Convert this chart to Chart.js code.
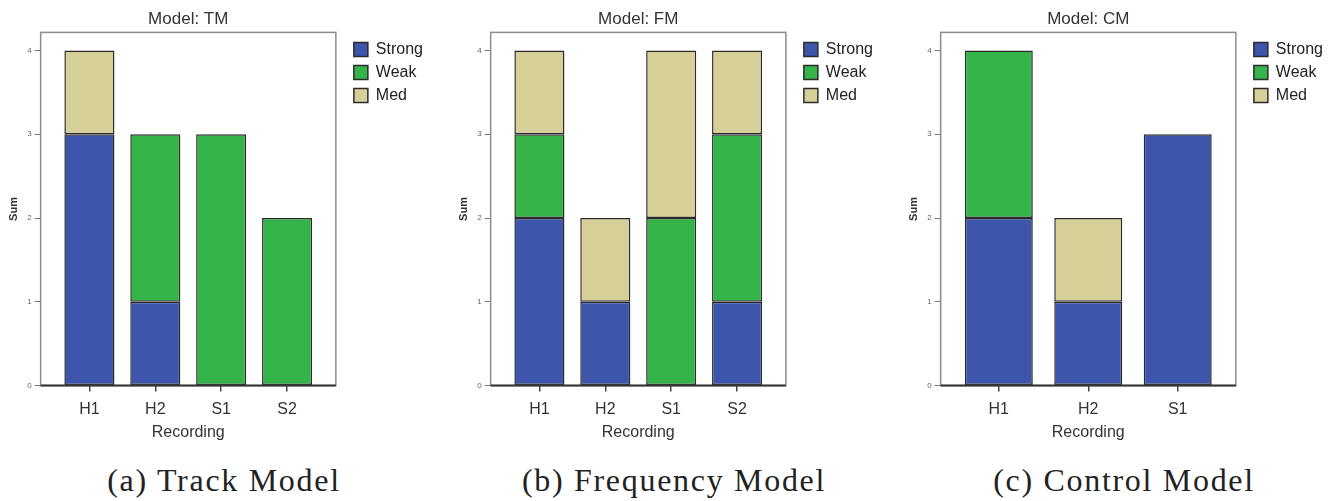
<!DOCTYPE html>
<html lang="en">
<head>
  <meta charset="UTF-8" />
  <title>Model comparison - stacked bars</title>
  <script src="https://cdn.jsdelivr.net/npm/chart.js"></script>
  <style>
    body { margin: 0; background: #fff; width: 1337px; height: 501px; overflow: hidden; position: relative; }
    .panel { position: absolute; top: 0; width: 450px; }
    .box { position: relative; width: 450px; height: 455px; }
    .caption { margin-top: 7px; width: 448px; text-align: center; font-family: "Liberation Serif", serif; font-size: 32px; letter-spacing: 1.7px; color: #222; line-height: 36px; }
  </style>
</head>
<body>
  <div class="panel" style="left:0px">
    <div class="box"><canvas id="chartTM"></canvas></div>
    <div class="caption">(a) Track Model</div>
  </div>
  <div class="panel" style="left:450px">
    <div class="box"><canvas id="chartFM"></canvas></div>
    <div class="caption">(b) Frequency Model</div>
  </div>
  <div class="panel" style="left:900px">
    <div class="box"><canvas id="chartCM"></canvas></div>
    <div class="caption">(c) Control Model</div>
  </div>

  <script>
    const levels = ['Strong', 'Weak', 'Med'];
    const colors = ['#3d55aa', '#35b44a', '#d6cf98'];

    const recTM = ['H1', 'H2', 'S1', 'S2'];
    const tmStrong = [3, 1, 0, 0];
    const tmWeak   = [0, 2, 3, 2];
    const tmMed    = [1, 0, 0, 0];

    const recFM = ['H1', 'H2', 'S1', 'S2'];
    const fmStrong = [2, 1, 0, 1];
    const fmWeak   = [1, 0, 2, 2];
    const fmMed    = [1, 1, 2, 1];

    const recCM = ['H1', 'H2', 'S1'];
    const cmStrong = [2, 1, 3];
    const cmWeak   = [2, 0, 0];
    const cmMed    = [0, 1, 0];

    const sumTicks = [0, 1, 2, 3, 4];

    // grey frame around the plot area, dark base line
    const frame = {
      id: 'frame',
      afterDatasetsDraw(chart) {
        const a = chart.chartArea, ctx = chart.ctx;
        ctx.save();
        ctx.strokeStyle = '#8c8c8c';
        ctx.lineWidth = 1.5;
        ctx.strokeRect(a.left, a.top, a.right - a.left, a.bottom - a.top);
        ctx.strokeStyle = '#333';
        ctx.lineWidth = 2;
        ctx.beginPath();
        ctx.moveTo(a.left, a.bottom);
        ctx.lineTo(a.right, a.bottom);
        ctx.stroke();
        ctx.restore();
      }
    };

    // push the legend a bit away from the frame
    const legendGap = {
      id: 'legendGap',
      afterLayout(chart) {
        chart.legend.left += 11;
        chart.legend.right += 11;
        chart.legend.top += 2;
        chart.legend.bottom += 2;
      }
    };

    function makeChart(id, model, labels, series, edge) {
      const datasets = series.map((vals, k) => ({
        label: levels[k],
        data: vals.map((v, i) => ({ x: i, y: v || null })),
        backgroundColor: colors[k],
        borderColor: '#2b2b2b',
        borderWidth: 1.5,
        borderSkipped: false,
        categoryPercentage: 1,
        barPercentage: 0.76
      }));

      new Chart(document.getElementById(id), {
        type: 'bar',
        data: { datasets },
        plugins: [frame, legendGap],
        options: {
          responsive: true,
          maintainAspectRatio: false,
          animation: false,
          layout: { padding: { left: 3, right: 28, top: 0, bottom: 2 } },
          plugins: {
            tooltip: { enabled: false },
            title: {
              display: true, text: 'Model: ' + model, fullSize: false,
              color: '#333', font: { family: 'Liberation Sans', size: 17, weight: 'normal' },
              padding: { top: 9, bottom: 3 }
            },
            legend: {
              position: 'right', align: 'start', fullSize: false,
              labels: {
                boxWidth: 14, boxHeight: 14, padding: 7,
                color: '#222', font: { family: 'Liberation Sans', size: 16 }
              }
            }
          },
          scales: {
            x: {
              type: 'linear', stacked: true, offset: false,
              min: -edge, max: labels.length - 1 + edge,
              ticks: {
                stepSize: 1, includeBounds: false, padding: 8,
                color: '#333', font: { family: 'Liberation Sans', size: 16 },
                callback: v => labels[v] ?? ''
              },
              grid: { offset: false, drawOnChartArea: false, tickLength: 6, color: '#444', lineWidth: 1.5 },
              border: { display: false },
              title: {
                display: true, text: 'Recording', color: '#333',
                font: { family: 'Liberation Sans', size: 16 },
                padding: { top: -4, bottom: 11 }
              }
            },
            y: {
              stacked: true, min: 0, max: 4.215,
              afterBuildTicks: axis => { axis.ticks = sumTicks.map(v => ({ value: v })); },
              ticks: {
                padding: 3, color: '#666',
                font: { family: 'Liberation Sans', size: 8 }
              },
              grid: { drawOnChartArea: false, tickLength: 6, color: '#777', lineWidth: 1 },
              border: { display: false },
              title: {
                display: true, text: 'Sum', color: '#333',
                font: { family: 'Liberation Sans', size: 11, weight: 'bold' }
              }
            }
          }
        }
      });
    }

    makeChart('chartTM', 'TM', recTM, [tmStrong, tmWeak, tmMed], 0.74);
    makeChart('chartFM', 'FM', recFM, [fmStrong, fmWeak, fmMed], 0.74);
    makeChart('chartCM', 'CM', recCM, [cmStrong, cmWeak, cmMed], 0.65);
  </script>
</body>
</html>
